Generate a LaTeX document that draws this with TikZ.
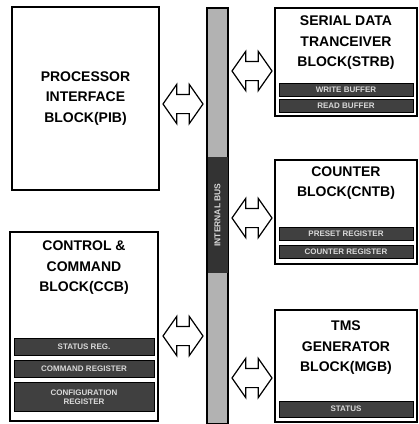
\documentclass[tikz,border=0pt]{standalone}
\usepackage{fontspec}
\setmainfont{Liberation Sans}
\usetikzlibrary{shapes,arrows,positioning}

\begin{document}
\begin{tikzpicture}[x=1pt, y=-1pt,
    block/.style={rectangle, draw, line width=1.2pt, fill=white, align=center, font=\bfseries\fontsize{14}{20.5}\selectfont},
    title/.style={align=center, font=\bfseries\fontsize{14}{20.5}\selectfont},
    regbox/.style={rectangle, draw, line width=0.8pt, fill=black!75, text=white!85!black, font=\bfseries\fontsize{8}{9}\selectfont, minimum height=13pt, inner sep=1pt, align=center},
    busarrow/.style={double arrow, draw, line width=1.2pt, fill=white, minimum height=40pt, double arrow head extend=10pt, double arrow tip angle=110, inner xsep=0pt, inner ysep=9pt}
]
    \useasboundingbox (0,0) rectangle (419,424);

    % internal bus
    \node[rectangle, draw, line width=1.2pt, fill=black!30, minimum width=21pt, minimum height=416pt] (bus) at (217.5,216) {};
    \node[rectangle, fill=black!80, minimum width=20pt, minimum height=116pt] (buslabel) at (217.5,215) {};
    \node[rotate=90, text=white!85!black, font=\bfseries\fontsize{8.5}{9}\selectfont] at (buslabel) {INTERNAL BUS};

    % PIB
    \node[block, minimum width=147pt, minimum height=183pt] (pib) at (85.5,98.5) {PROCESSOR\\INTERFACE\\BLOCK(PIB)};

    % STRB
    \node[block, minimum width=142pt, minimum height=108pt] (strb) at (346,62) {};
    \node[title] (strbtitle) at (346,43) {SERIAL DATA\\TRANCEIVER\\BLOCK(STRB)};
    \node[regbox, minimum width=134pt] (wbuf) at (346,90) {WRITE BUFFER};
    \node[regbox, minimum width=134pt] (rbuf) at (346,105.5) {READ BUFFER};

    % CNTB
    \node[block, minimum width=142pt, minimum height=104pt] (cntb) at (346,212) {};
    \node[title] (cntbtitle) at (346,183) {COUNTER\\BLOCK(CNTB)};
    \node[regbox, minimum width=134pt] (preset) at (346,234) {PRESET REGISTER};
    \node[regbox, minimum width=134pt] (count) at (346,252) {COUNTER REGISTER};

    % MGB
    \node[block, minimum width=142pt, minimum height=112pt] (mgb) at (346,366) {};
    \node[title] (mgbtitle) at (346,348) {TMS\\GENERATOR\\BLOCK(MGB)};
    \node[regbox, minimum width=134pt, minimum height=16pt] (status) at (346,409) {STATUS};

    % CCB
    \node[block, minimum width=148pt, minimum height=189pt] (ccb) at (84,326.5) {};
    \node[title] (ccbtitle) at (84,268) {CONTROL \&\\COMMAND\\BLOCK(CCB)};
    \node[regbox, minimum width=140pt, minimum height=17pt] (statreg) at (84,347) {STATUS REG.};
    \node[regbox, minimum width=140pt, minimum height=17pt] (cmdreg) at (84,369) {COMMAND REGISTER};
    \node[regbox, minimum width=140pt, minimum height=29pt] (cfgreg) at (84,397) {CONFIGURATION\\REGISTER};

    % bus arrows
    \node[busarrow] (pibarrow) at (183,104) {};
    \node[busarrow] (strbarrow) at (252,71) {};
    \node[busarrow] (cntbarrow) at (252,218) {};
    \node[busarrow] (ccbarrow) at (183,336) {};
    \node[busarrow] (mgbarrow) at (252,378) {};
\end{tikzpicture}
\end{document}
